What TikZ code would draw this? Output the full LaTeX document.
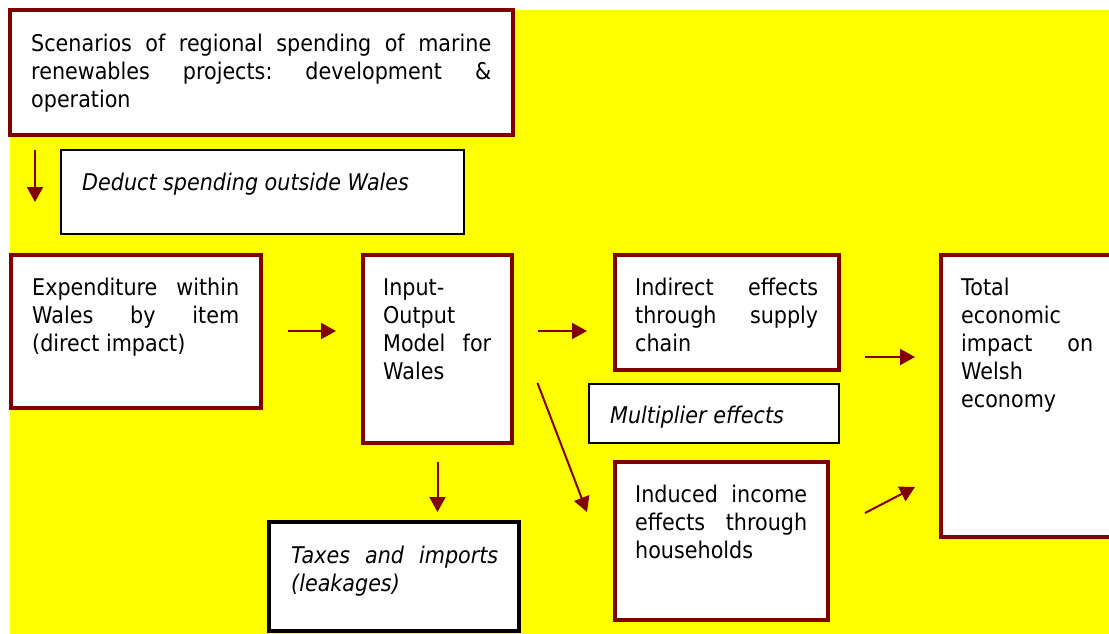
\documentclass[tikz,border=0pt]{standalone}
\usepackage{fontspec}
\setmainfont{DejaVu Sans}[FakeStretch=0.9]
\usetikzlibrary{arrows.meta,fit}
\definecolor{wred}{HTML}{800000}
\definecolor{bgyellow}{HTML}{FFFF00}
\frenchspacing
\tikzset{
  redbox/.style={draw=wred, line width=4pt, fill=white, inner sep=0pt},
  blackbox/.style={draw=black, line width=4pt, fill=white, inner sep=0pt},
  thinbox/.style={draw=black, line width=2pt, fill=white, inner sep=0pt},
  txt/.style={inner sep=0pt, anchor=base west, font=\fontsize{23}{28}\selectfont},
  itxt/.style={txt, font=\fontsize{23}{28}\selectfont\itshape},
  arr/.style={draw=wred, line width=2pt, -{Triangle[length=15pt,width=16pt]}},
}
\newcommand{\jl}[2]{\makebox[#1][s]{#2}}
\begin{document}
\begin{tikzpicture}[x=1pt,y=-1pt]
\useasboundingbox (0,0) rectangle (1109,634);
\clip (0,0) rectangle (1109,634);
\fill[white] (0,0) rectangle (1109,634);
\fill[bgyellow] (10,10) rectangle (1109,634);

% boxes
\node[redbox, fit={(10,10) (513,135)}] (scen) {};
\node[thinbox, fit={(61,150) (464,234)}] (deduct) {};
\node[redbox, fit={(10.5,254.5) (260.5,408)}] (exp) {};
\node[redbox, fit={(362.5,254.5) (512,443)}] (io) {};
\node[redbox, fit={(614.5,254.5) (839,369.7)}] (ind) {};
\node[thinbox, fit={(589,384) (839,443)}] (mult) {};
\node[redbox, fit={(614.5,462) (828,619.7)}] (induced) {};
\node[redbox, fit={(941,254.5) (1130,537.3)}] (total) {};
\node[blackbox, fit={(269,522) (518.7,631)}] (taxes) {};

% texts
\node[txt] (scen-t) at (31,52) {\parbox[t]{460pt}{%
  \jl{460pt}{Scenarios of regional spending of marine}\\
  \jl{460pt}{renewables projects: development \&}\\
  operation}};
\node[itxt] (deduct-t) at (82,190) {Deduct spending outside Wales};
\node[txt] (exp-t) at (32,295) {\parbox[t]{207pt}{%
  \jl{207pt}{Expenditure within}\\
  \jl{207pt}{Wales by item}\\
  (direct impact)}};
\node[txt] (io-t) at (383,295) {\parbox[t]{108pt}{%
  Input-\\
  Output\\
  \jl{108pt}{Model for}\\
  Wales}};
\node[txt] (ind-t) at (635,295) {\parbox[t]{183pt}{%
  \jl{183pt}{Indirect effects}\\
  \jl{183pt}{through supply}\\
  chain}};
\node[itxt] (mult-t) at (610,423) {Multiplier effects};
\node[txt] (induced-t) at (635,502) {\parbox[t]{172pt}{%
  \jl{172pt}{Induced income}\\
  \jl{172pt}{effects through}\\
  households}};
\node[txt] (total-t) at (961,295) {\parbox[t]{132pt}{%
  Total\\
  economic\\
  \jl{132pt}{impact on}\\
  Welsh\\
  economy}};
\node[itxt] (taxes-t) at (291,563) {\parbox[t]{207pt}{\itshape
  \jl{207pt}{Taxes and imports}\\
  (leakages)}};

% connector end points
\coordinate (a1s) at (35,150);   \coordinate (a1e) at (35,202);
\coordinate (a2s) at (287.5,331); \coordinate (a2e) at (336,331);
\coordinate (a3s) at (437.5,462); \coordinate (a3e) at (437.5,512);
\coordinate (a4s) at (538,331);  \coordinate (a4e) at (587,331);
\coordinate (a5s) at (537.5,383); \coordinate (a5e) at (587,512);
\coordinate (a6s) at (865,357);  \coordinate (a6e) at (915,357);
\coordinate (a7s) at (865,513);  \coordinate (a7e) at (915,487);

\draw[arr] (a1s) -- (a1e);
\draw[arr] (a2s) -- (a2e);
\draw[arr] (a3s) -- (a3e);
\draw[arr] (a4s) -- (a4e);
\draw[arr] (a5s) -- (a5e);
\draw[arr] (a6s) -- (a6e);
\draw[arr] (a7s) -- (a7e);
\end{tikzpicture}
\end{document}
